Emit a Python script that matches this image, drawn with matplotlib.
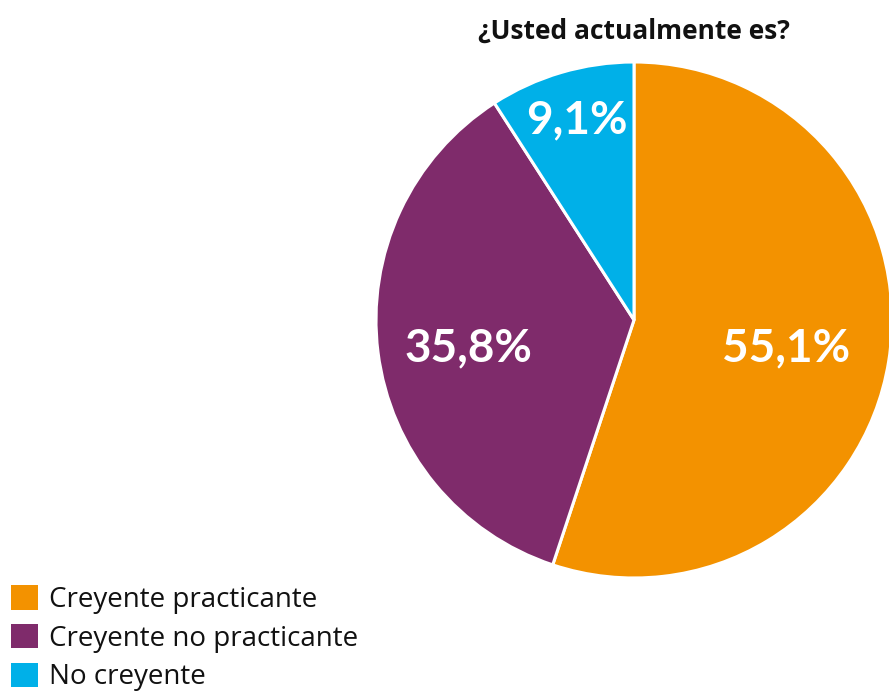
import matplotlib
matplotlib.use("Agg")
import matplotlib.pyplot as plt

categories = ["Creyente practicante", "Creyente no practicante", "No creyente"]
values = [55.1, 35.8, 9.1]
labels = ["55,1%", "35,8%", "9,1%"]
colors = ["#F39200", "#7F2B6B", "#00B0E8"]
title = "¿Usted actualmente es?"

W, H = 889, 692
fig = plt.figure(figsize=(W / 100, H / 100), dpi=100)
ax = fig.add_axes([0, 0, 1, 1])

cx, cy, r = 634, H - 320, 258
wedges, _ = ax.pie(values, colors=colors, startangle=90, counterclock=False,
                   center=(cx, cy), radius=r, frame=True,
                   wedgeprops=dict(edgecolor="white", linewidth=2.2))
ax.set_xlim(0, W)
ax.set_ylim(0, H)
ax.axis("off")

label_pos = [(786, 348), (468, 348), (577, 120)]
for (x, y), t in zip(label_pos, labels):
    ax.text(x, H - y, t, ha="center", va="center", color="white",
            fontsize=33, fontweight="bold", family=["Lato", "DejaVu Sans"])

fig.text(634 / W, 1 - 31 / H, title, ha="center", va="center",
         fontsize=19, fontweight="bold", family=["Open Sans", "DejaVu Sans"], color="#111111")

leg = fig.legend(wedges, categories, loc="lower left",
                 bbox_to_anchor=(5 / W, -5 / H), frameon=False,
                 prop=dict(family=["Open Sans", "DejaVu Sans"], size=20),
                 handlelength=0.97, handleheight=0.97, handletextpad=0.42,
                 labelspacing=0.36, borderpad=0.2, borderaxespad=0)
for h in leg.legend_handles:
    h.set_edgecolor("none")
for t in leg.get_texts():
    t.set_color("#111111")

fig.savefig("out.png", dpi=100)
